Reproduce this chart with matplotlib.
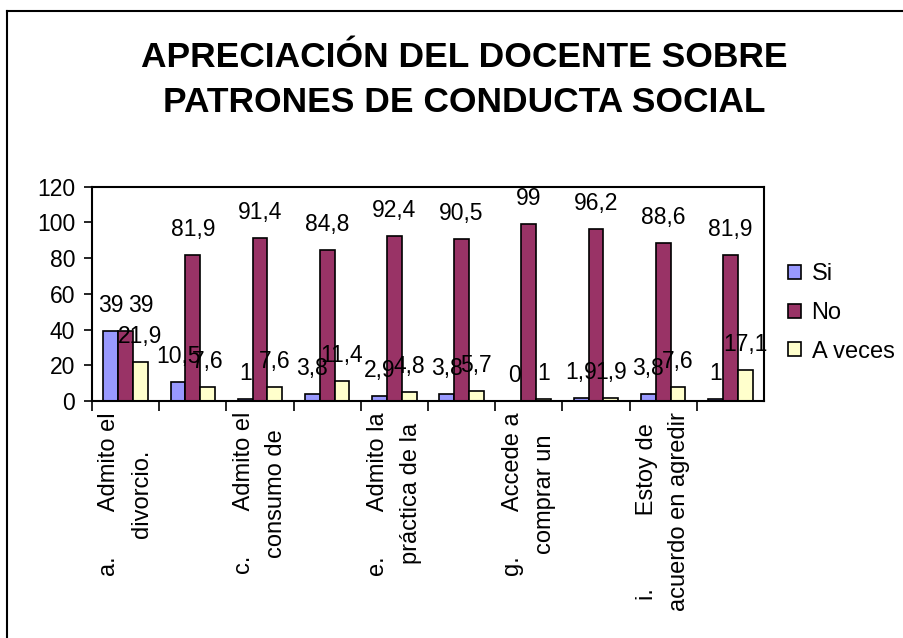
import matplotlib
matplotlib.use("Agg")
import matplotlib.pyplot as plt
from matplotlib.lines import Line2D
import numpy as np

plt.rcParams['font.family'] = ['Liberation Sans', 'DejaVu Sans']

title_lines = ["APRECIACIÓN DEL DOCENTE SOBRE", "PATRONES DE CONDUCTA SOCIAL"]
categories = [
    "a." + " " * 7 + "Admito el\ndivorcio.",
    "",
    "c." + " " * 7 + "Admito el\nconsumo de",
    "",
    "e." + " " * 7 + "Admito la\npráctica de la",
    "",
    "g." + " " * 7 + "Accede a\ncomprar un",
    "",
    "i." + " " * 11 + "Estoy de\nacuerdo en agredir",
    "",
]
series_names = ["Si", "No", "A veces"]
si = [39, 10.5, 1, 3.8, 2.9, 3.8, 0, 1.9, 3.8, 1]
no = [39, 81.9, 91.4, 84.8, 92.4, 90.5, 99, 96.2, 88.6, 81.9]
a_veces = [21.9, 7.6, 7.6, 11.4, 4.8, 5.7, 1, 1.9, 7.6, 17.1]
colors = ["#9999FF", "#993366", "#FFFFCC"]
yticks = [0, 20, 40, 60, 80, 100, 120]
# horizontal nudge (pixels) of the "No" label in the first group, as in the reference
label_nudge = {(1, 0): 15}

W, H = 904, 638
fig = plt.figure(figsize=(W / 100, H / 100), dpi=100)
ax = fig.add_axes([92 / W, 1 - 401 / H, (764 - 92) / W, (401 - 186.7) / H])

x = np.arange(len(categories))
bw = 0.22
fs = 16.5
for k, (vals, name, col) in enumerate(zip([si, no, a_veces], series_names, colors)):
    pos = x + (k - 1) * bw
    ax.bar(pos, vals, width=bw, color=col, edgecolor="black", linewidth=1.2, label=name)
    for i, (xp, v) in enumerate(zip(pos, vals)):
        lab = ("%g" % v).replace(".", ",")
        dx = label_nudge.get((k, i), 0)
        ax.annotate(lab, (xp, v), xytext=(dx, 19), textcoords="offset pixels",
                    ha="center", va="baseline", fontsize=fs)

ax.set_xlim(-0.5, len(categories) - 0.5)
ax.set_ylim(0, 120)
ax.set_yticks(yticks)
ax.tick_params(axis="y", direction="out", length=6, width=1.2, labelsize=fs, pad=6)
ax.set_xticks(x - 0.5, minor=False)
ax.set_xticklabels([""] * len(categories))
ax.tick_params(axis="x", which="major", direction="out", length=7, width=1.2)
ax.set_xticks(x, minor=True)
ax.set_xticklabels(categories, minor=True, rotation=90, fontsize=17,
                   ha="center", va="top", multialignment="center", linespacing=1.6)
ax.tick_params(axis="x", which="minor", length=0, pad=8)
for s in ax.spines.values():
    s.set_linewidth(1.5)

fig.legend(loc="center left", bbox_to_anchor=(788 / W, 1 - 313 / H), frameon=False,
           fontsize=17, handlelength=0.55, handleheight=0.55, handletextpad=0.45,
           labelspacing=0.7, borderpad=0, borderaxespad=0)

for line, base in zip(title_lines, [67, 112]):
    fig.text(464 / W, 1 - base / H, line, ha="center", va="baseline", fontsize=25.5,
             fontweight="bold")

fig.add_artist(Line2D([7 / W, 7 / W], [0, 1 - 11 / H], transform=fig.transFigure,
                      color="black", linewidth=1.5))
fig.add_artist(Line2D([7 / W, 1], [1 - 11 / H, 1 - 11 / H], transform=fig.transFigure,
                      color="black", linewidth=1.5))

fig.savefig("out.png", dpi=100)
